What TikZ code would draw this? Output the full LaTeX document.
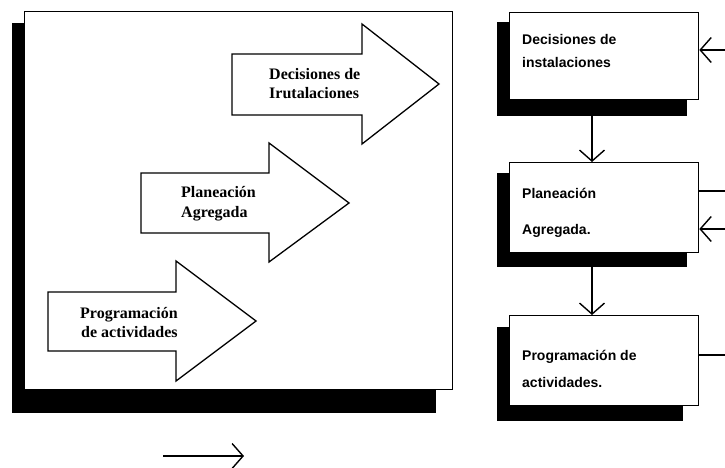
\documentclass[tikz,border=0pt]{standalone}
\usepackage{fontspec}
\setmainfont{Liberation Serif}
\newfontfamily\sansb{Liberation Sans}
\usetikzlibrary{arrows.meta}
\begin{document}
\begin{tikzpicture}[x=1pt,y=-1pt,
  blockarrow/.style={draw=black,line width=1.3pt,fill=white,line join=miter},
  shadow/.style={fill=black},
  lefttext/.style={font=\bfseries\fontsize{16}{20}\selectfont,anchor=base west,inner sep=0pt},
  boxnode/.style={draw=black,line width=1.3pt,fill=white,anchor=north west,inner sep=0pt},
  righttext/.style={font=\sansb\bfseries\fontsize{14}{14}\selectfont,anchor=base west,inner sep=0pt},
  barb/.style={line width=1.4pt,-{Straight Barb[length=11pt,width=25pt,line width=1.4pt]}},
  plain/.style={line width=1.4pt}]
\useasboundingbox (0,0) rectangle (725,468);
% left frame
\fill[shadow] (12,23) rectangle (436,413);
\node[boxnode,minimum width=428pt,minimum height=378pt] (frame) at (24,11) {};
% block arrows
\draw[blockarrow] (232,54) -- (362,54) -- (362,24) -- (439,84) -- (362,144) -- (362,115) -- (232,115) -- cycle;
\draw[blockarrow] (141,173) -- (269,173) -- (269,143) -- (349,203) -- (269,262) -- (269,233) -- (141,233) -- cycle;
\draw[blockarrow] (48,292) -- (176,292) -- (176,261) -- (256,321) -- (176,381) -- (176,351) -- (48,351) -- cycle;
\node[lefttext] (t1a) at (269,80) {Decisiones de};
\node[lefttext] (t1b) at (269,99) {Irutalaciones};
\node[lefttext] (t2a) at (181,197) {Planeación};
\node[lefttext] (t2b) at (181,217) {Agregada};
\node[lefttext] (t3a) at (80,318) {Programación};
\node[lefttext] (t3b) at (81,337) {de actividades};
% right boxes
\fill[shadow] (497,22) rectangle (687,116);
\node[boxnode,minimum width=189pt,minimum height=87pt] (b1) at (509,12) {};
\fill[shadow] (497,173) rectangle (687,267);
\node[boxnode,minimum width=189pt,minimum height=90pt] (b2) at (509,162) {};
\fill[shadow] (497,327) rectangle (683,421);
\node[boxnode,minimum width=189pt,minimum height=90pt] (b3) at (509,315) {};
\node[righttext] (r1a) at (522,45) {Decisiones de};
\node[righttext] (r1b) at (522,68) {instalaciones};
\node[righttext] (r2a) at (522,198) {Planeación};
\node[righttext] (r2b) at (522,234) {Agregada.};
\node[righttext] (r3a) at (522,360) {Programación de};
\node[righttext] (r3b) at (522,387) {actividades.};
% connectors
\coordinate (s1) at (592,116);
\coordinate (s2) at (592,267);
\draw[barb] (s1) -- (s1 |- b2.north);
\draw[barb] (s2) -- (s2 |- b3.north);
\coordinate (e1) at (725,50);
\coordinate (e2) at (725,191);
\coordinate (e3) at (725,229);
\coordinate (e4) at (725,355);
\draw[barb] (e1) -- (e1 -| b1.east);
\draw[plain] (e2 -| b2.east) -- (e2);
\draw[barb] (e3) -- (e3 -| b2.east);
\draw[plain] (e4 -| b3.east) -- (e4);
% bottom arrow
\coordinate (p1) at (163,456);
\coordinate (p2) at (244,456);
\draw[barb] (p1) -- (p2);
\end{tikzpicture}
\end{document}
